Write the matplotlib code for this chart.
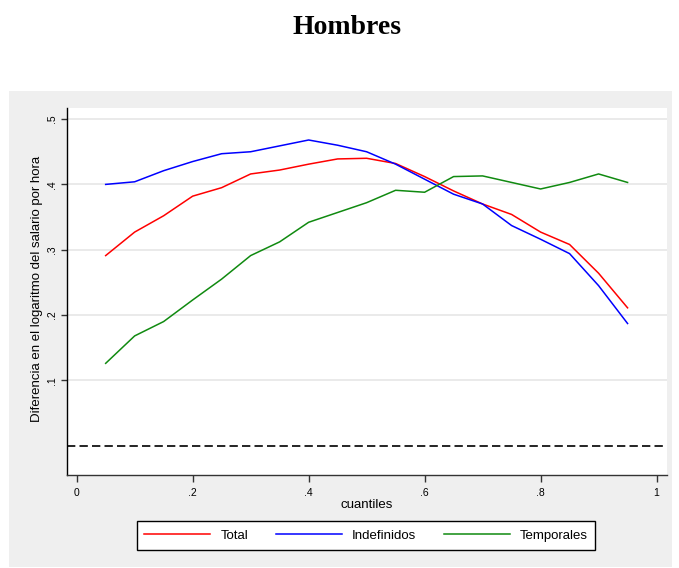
import matplotlib
matplotlib.use("Agg")
import matplotlib.pyplot as plt
from matplotlib.patches import Rectangle

# quantiles and wage-gap estimates by contract type
cuantiles = [0.05, 0.10, 0.15, 0.20, 0.25, 0.30, 0.35, 0.40, 0.45, 0.50,
             0.55, 0.60, 0.65, 0.70, 0.75, 0.80, 0.85, 0.90, 0.95]
total = [0.291, 0.327, 0.352, 0.382, 0.395, 0.416, 0.422, 0.431, 0.439, 0.440,
         0.432, 0.412, 0.390, 0.370, 0.354, 0.327, 0.308, 0.264, 0.211]
indefinidos = [0.400, 0.404, 0.421, 0.435, 0.447, 0.450, 0.459, 0.468, 0.460, 0.450,
               0.431, 0.408, 0.385, 0.370, 0.337, 0.316, 0.294, 0.245, 0.187]
temporales = [0.126, 0.168, 0.190, 0.223, 0.255, 0.291, 0.312, 0.342, 0.357, 0.372,
              0.391, 0.388, 0.412, 0.413, 0.403, 0.393, 0.403, 0.416, 0.403]

xticks = [0, 0.2, 0.4, 0.6, 0.8, 1.0]
xticklabels = ["0", ".2", ".4", ".6", ".8", "1"]
yticks = [0.1, 0.2, 0.3, 0.4, 0.5]
yticklabels = [".1", ".2", ".3", ".4", ".5"]

plt.rcParams["font.family"] = ["Liberation Sans", "DejaVu Sans"]
plt.rcParams["lines.scale_dashes"] = False

W, H = 679, 568
fig = plt.figure(figsize=(W / 100, H / 100), dpi=100)
fig.patch.set_facecolor("white")

# grey graph region behind the plot
fig.patches.append(Rectangle((9 / W, 1 - 567 / H), (672 - 9) / W, (567 - 91) / H,
                             transform=fig.transFigure, facecolor="#efefef",
                             edgecolor="none", zorder=-10))

fig.text(347 / W, 1 - 27.5 / H, "Hombres", ha="center", va="center",
         fontsize=20, fontweight="bold", family=["Liberation Serif", "DejaVu Serif"])

ax = fig.add_axes([66.7 / W, 1 - 475 / H, (667 - 66.7) / W, (475 - 108) / H])
ax.set_zorder(1)
ax.set_facecolor("white")

for y in yticks:
    ax.axhline(y, color="#e6e6e6", linewidth=1.2, zorder=1)
ax.axhline(0, color="black", linewidth=1.2, dashes=(6, 3), zorder=2)

ax.plot(cuantiles, total, color="#ff0000", linewidth=1.1, label="Total", zorder=3)
ax.plot(cuantiles, indefinidos, color="#0000ff", linewidth=1.1, label="Indefinidos", zorder=3)
ax.plot(cuantiles, temporales, color="#108a10", linewidth=1.1, label="Temporales", zorder=3)

ax.set_xlim(-0.0172, 1.018)
ax.set_ylim(-0.045, 0.517)

ax.spines["top"].set_visible(False)
ax.spines["right"].set_visible(False)
ax.spines["left"].set_color("black")
ax.spines["bottom"].set_color("#333333")
ax.spines["left"].set_linewidth(1.0)
ax.spines["bottom"].set_linewidth(1.0)

ax.set_xticks(xticks)
ax.set_xticklabels(xticklabels, fontsize=7.5)
ax.set_yticks(yticks)
ax.set_yticklabels(yticklabels, fontsize=7.5, rotation=90, va="center")
ax.tick_params(axis="x", length=5, width=1, color="#333333", pad=4)
ax.tick_params(axis="y", length=4, width=1, color="#333333", pad=3)

ax.set_xlabel("cuantiles", fontsize=9.5, labelpad=1)
fig.text(37.5 / W, 1 - 289 / H, "Diferencia en el logaritmo del salario por hora",
         rotation=90, ha="center", va="center", fontsize=9.5)

leg = fig.legend(loc="center", bbox_to_anchor=(366 / W, 1 - 535.5 / H), ncol=3,
                 fontsize=9.5, frameon=True, fancybox=False, handlelength=5.0,
                 handletextpad=0.75, columnspacing=2.1, borderpad=0.6)
leg.get_frame().set_edgecolor("black")
leg.get_frame().set_linewidth(1.0)
leg.get_frame().set_facecolor("white")
leg.get_frame().set_alpha(1)

fig.savefig("out.png", dpi=100)
